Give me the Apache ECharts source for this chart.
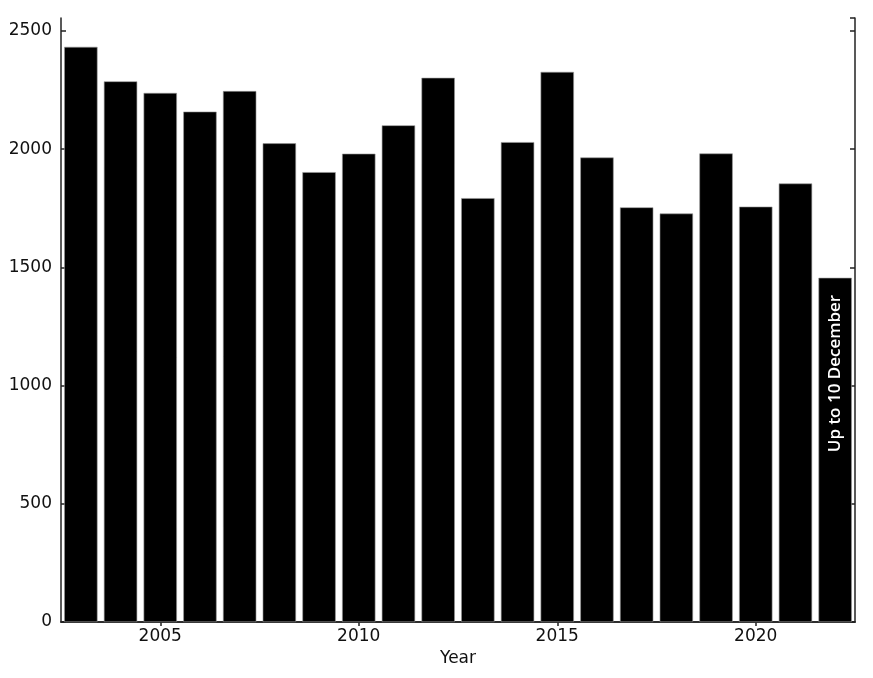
<!DOCTYPE html>
<html lang="en">
<head>
    <meta charset="UTF-8">
    <title>Year</title>
    <script src="https://cdn.jsdelivr.net/npm/echarts@6/dist/echarts.min.js"></script>
</head>
<body style="margin:0">
<div id="myChart" style="width: 873px;height: 678px"></div>
</body>
<script>
    // years and counts
    var years = ['2003','2004','2005','2006','2007','2008','2009','2010','2011','2012',
                 '2013','2014','2015','2016','2017','2018','2019','2020','2021','2022'];
    var counts = [2433, 2287, 2238, 2159, 2246, 2025, 1903, 1981, 2101, 2302,
                  1793, 2030, 2327, 1965, 1754, 1728, 1982, 1757, 1855, 1456];
    var yTicks = [0, 500, 1000, 1500, 2000, 2500];
    var noteText = 'Up to 10 December';

    var fontName = 'DejaVu Sans';
    var lineStyle = {color: '#222', width: 1.5};

    // only every 5th year gets a label / tick
    function everyFive(idx, val) {
        return Number(years[idx]) % 5 === 0;
    }

    var data = counts.map(function (v, i) {
        if (i === counts.length - 1) {
            return {
                value: v,
                label: {
                    show: true,
                    position: 'insideTop',
                    distance: 17,
                    rotate: 90,
                    align: 'right',
                    verticalAlign: 'middle',
                    color: '#fff',
                    fontFamily: 'Open Sans',
                    fontWeight: 600,
                    fontSize: 17,
                    formatter: noteText
                }
            };
        }
        return v;
    });

    var myChart = echarts.init(document.getElementById('myChart'));
    myChart.setOption({
        animation: false,
        grid: {left: 61, right: 18, top: 18, bottom: 56},
        xAxis: [{
            type: 'category',
            data: years,
            name: 'Year',
            nameLocation: 'middle',
            nameGap: 28,
            nameTextStyle: {color: '#111', fontFamily: fontName, fontSize: 17},
            axisLine: {lineStyle: lineStyle},
            axisTick: {show: true, inside: true, alignWithLabel: true, interval: everyFive, length: 4, lineStyle: lineStyle},
            axisLabel: {interval: everyFive, color: '#111', fontFamily: fontName, fontSize: 17, margin: 6}
        }, {
            type: 'category',
            data: years,
            position: 'top',
            axisLine: {lineStyle: lineStyle},
            axisTick: {show: true, inside: true, alignWithLabel: true, interval: everyFive, length: 4, lineStyle: lineStyle},
            axisLabel: {show: false}
        }],
        yAxis: [{
            type: 'value',
            min: 0,
            max: 2555,
            interval: 500,
            splitLine: {show: false},
            axisLine: {show: true, lineStyle: lineStyle},
            axisTick: {show: true, inside: true, length: 5, lineStyle: lineStyle},
            axisLabel: {
                color: '#111', fontFamily: fontName, fontSize: 17, margin: 9, showMaxLabel: false,
                formatter: function (v) { return yTicks.indexOf(v) >= 0 ? String(v) : ''; }
            }
        }, {
            type: 'value',
            min: 0,
            max: 2555,
            interval: 500,
            position: 'right',
            splitLine: {show: false},
            axisLine: {show: true, lineStyle: lineStyle},
            axisTick: {show: true, inside: true, length: 5, lineStyle: lineStyle},
            axisLabel: {show: false}
        }],
        series: [{
            type: 'bar',
            data: data,
            barCategoryGap: '16%',
            itemStyle: {color: '#000', borderColor: '#999', borderWidth: 0.6}
        }]
    });
</script>
</html>
